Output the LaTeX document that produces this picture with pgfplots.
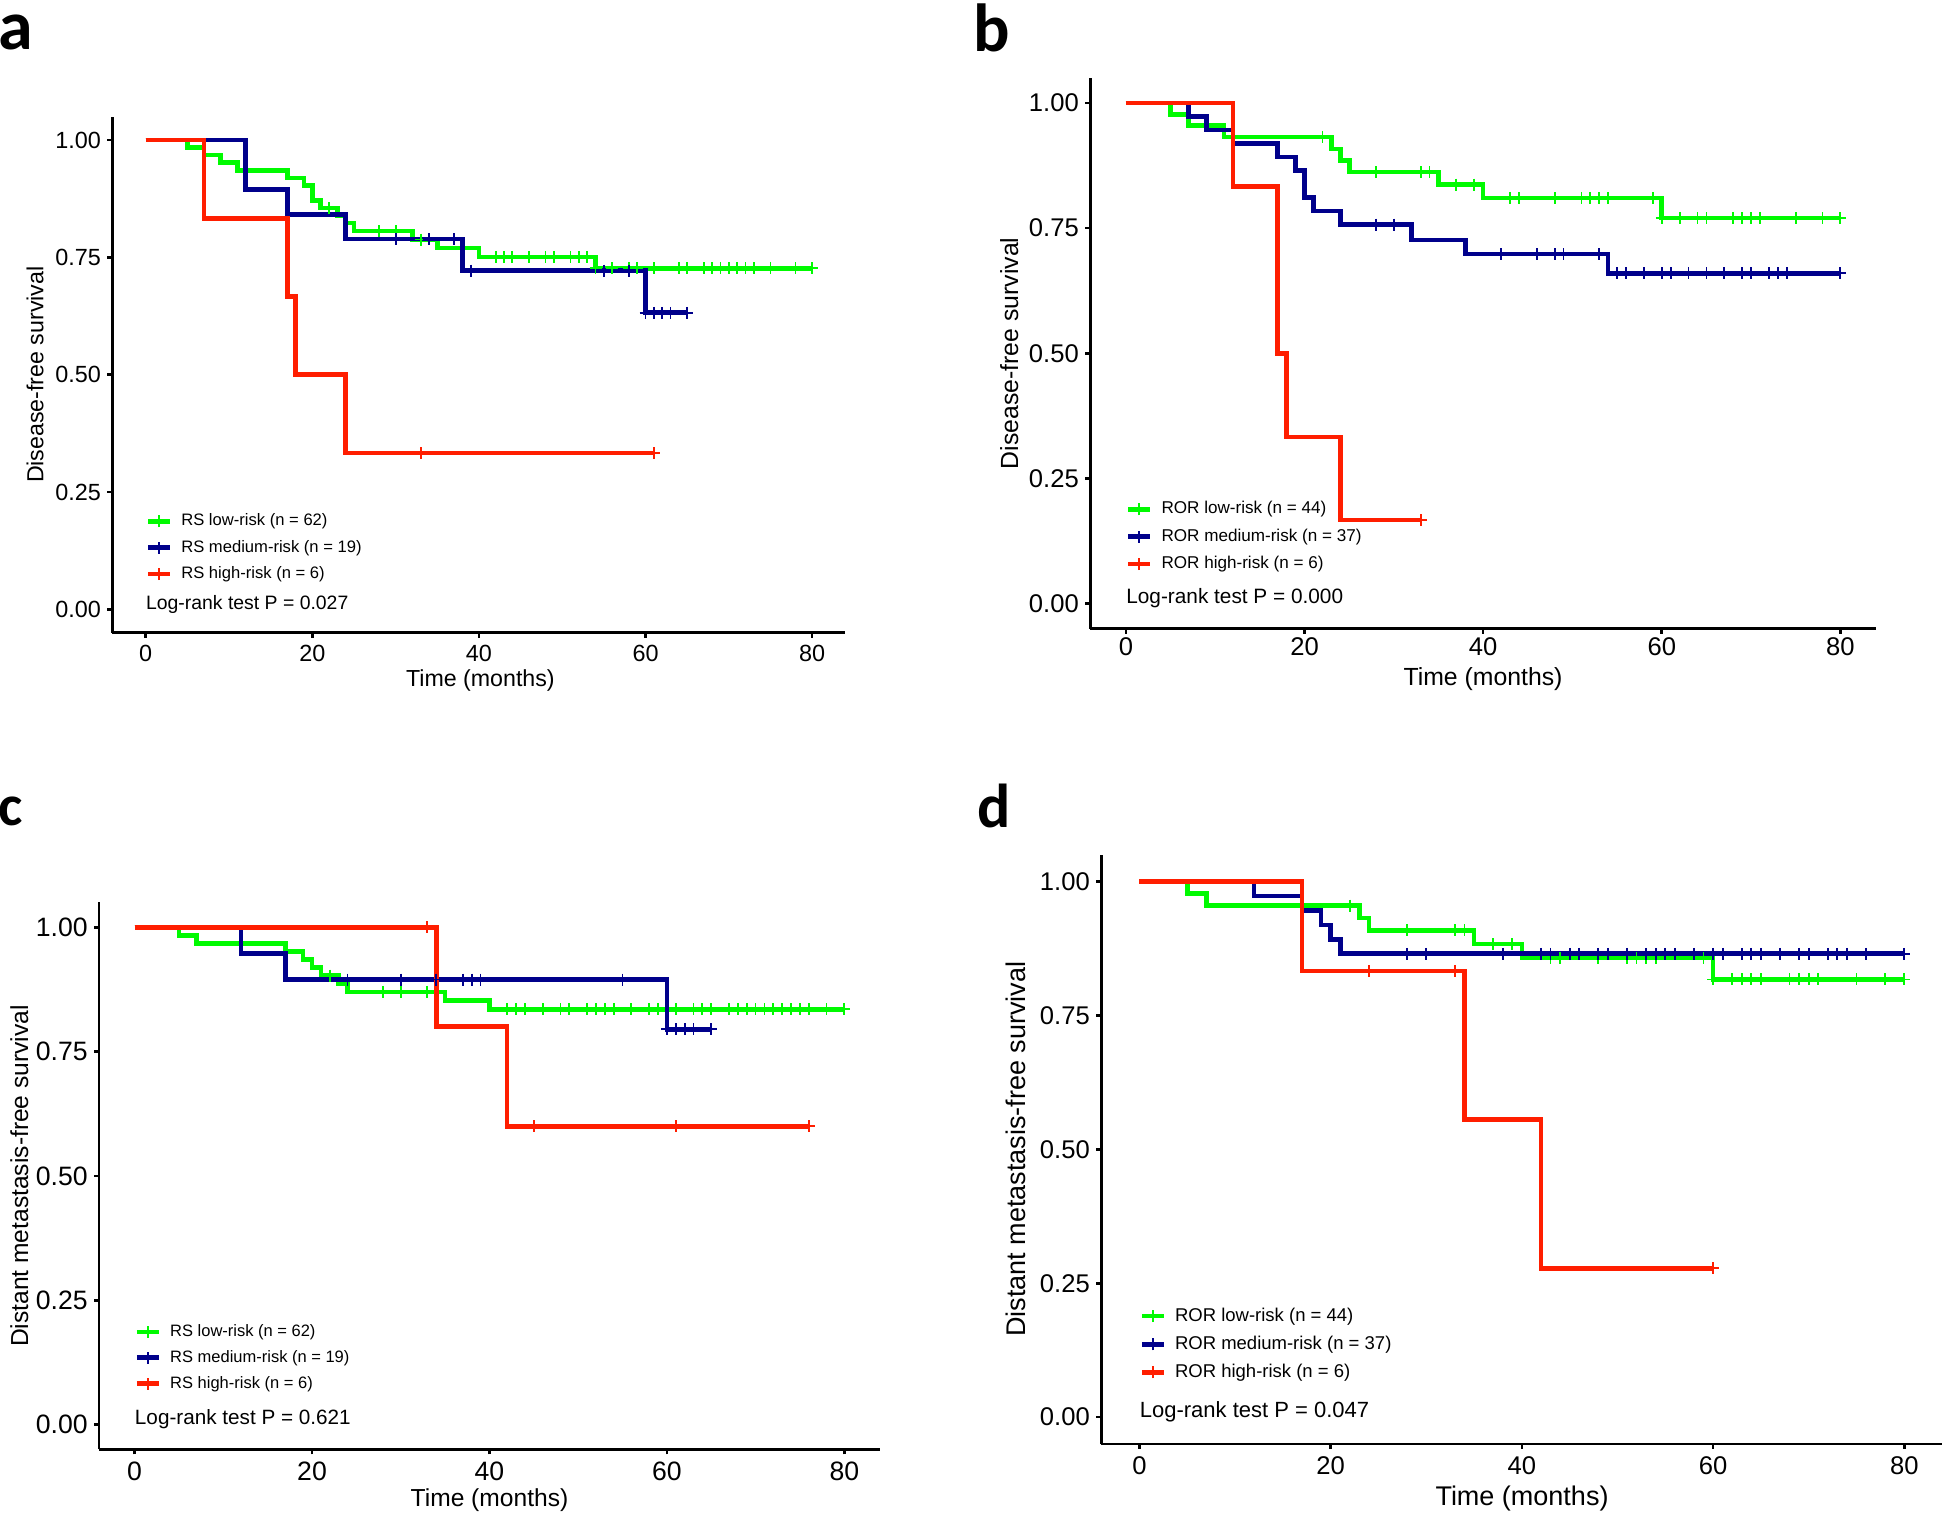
\documentclass[border=0pt]{standalone}
\usepackage{fontspec}
\setmainfont{Liberation Sans}
\newfontfamily\letterfont{Carlito}
\usepackage{pgfplots}
\pgfplotsset{compat=1.18}
\definecolor{kmgreen}{RGB}{0,250,0}
\definecolor{kmblue}{RGB}{0,0,139}
\definecolor{kmred}{RGB}{255,30,0}
\newcommand{\fs}[1]{\fontsize{#1}{#1}\selectfont}
\pgfplotsset{
  kmaxis/.style={
    scale only axis, anchor=south west,
    xmin=-4, xmax=84, ymin=-0.05, ymax=1.05,
    axis x line*=bottom, axis y line*=left,
    axis line style={line width=1.3pt, black, -},
    xtick={0,20,40,60,80}, xticklabels={0,20,40,60,80},
    ytick={0,0.25,0.5,0.75,1}, yticklabels={0.00,0.25,0.50,0.75,1.00},
    tick align=outside, major tick length=2.5pt,
    tick style={line width=1.3pt, black},
    yticklabel style={inner sep=0pt, xshift=-3pt},
    legend cell align=left,
    legend image code/.code={
      \draw[##1, line width=2.3pt] (0pt,0pt) -- (11pt,0pt);
      \draw[##1, line width=1pt] (5.5pt,-3pt) -- (5.5pt,3pt);
    },
  },
  st/.style={const plot, line width=2.3pt, forget plot},
  cs/.style={only marks, mark=+, mark size=3pt, mark options={line width=0.9pt}, forget plot},
}
\begin{document}
\begin{tikzpicture}[x=1pt,y=1pt]
\path[use as bounding box] (0,0) rectangle (972,757.5);

% ---------------- panel a ----------------
\begin{axis}[kmaxis, at={(56.2pt,441.15pt)}, width=366.55pt, height=258pt,
  ticklabel style={font=\fs{11.7}},
  xticklabel style={inner sep=0pt, yshift=-3.5pt},
  legend style={at={(axis cs:0,0.2035)}, anchor=north west, draw=none, fill=none,
    inner sep=0pt, outer sep=0pt, row sep=5.7pt, column sep=4.5pt, font=\fs{8.3},
    nodes={inner sep=0pt}}]
\addlegendimage{kmgreen}\addlegendentry{RS low-risk (n = 62)}
\addlegendimage{kmblue}\addlegendentry{RS medium-risk (n = 19)}
\addlegendimage{kmred}\addlegendentry{RS high-risk (n = 6)}
\addplot[st, kmgreen] coordinates {(0,1)(5,0.984)(7,0.968)(9,0.952)(11,0.935)(17,0.919)(19,0.903)(20,0.871)(21,0.855)(23,0.839)(24,0.823)(25,0.806)(32,0.788)(35,0.770)(40,0.751)(54,0.727)(80,0.727)};
\addplot[cs, kmgreen] coordinates {(22,0.855)(28,0.806)(30,0.806)(33,0.788)(42,0.751)(43,0.751)(44,0.751)(46,0.751)(48,0.751)(49,0.751)(51,0.751)(52,0.751)(53,0.751)(54,0.727)(56,0.727)(58,0.727)(59,0.727)(61,0.727)(64,0.727)(65,0.727)(67,0.727)(68,0.727)(69,0.727)(70,0.727)(71,0.727)(72,0.727)(73,0.727)(75,0.727)(78,0.727)(80,0.727)};
\addplot[st, kmblue] coordinates {(0,1)(12,0.895)(17,0.842)(24,0.789)(38,0.722)(60,0.632)(65,0.632)};
\addplot[cs, kmblue] coordinates {(30,0.789)(34,0.789)(37,0.789)(39,0.722)(55,0.722)(58,0.722)(60,0.632)(61,0.632)(62,0.632)(63,0.632)(65,0.632)};
\addplot[st, kmred] coordinates {(0,1)(7,0.833)(17,0.667)(18,0.5)(24,0.333)(61,0.333)};
\addplot[cs, kmred] coordinates {(33,0.333)(61,0.333)};
\node[anchor=base west, inner sep=0pt, font=\fs{9.7}] at (axis cs:0,0) {Log-rank test P = 0.027};
\end{axis}

% ---------------- panel b ----------------
\begin{axis}[kmaxis, at={(545.1pt,443.1pt)}, width=392.95pt, height=275.45pt,
  ticklabel style={font=\fs{12.8}},
  xticklabel style={inner sep=0pt, yshift=-1.5pt},
  legend style={at={(axis cs:0,0.204)}, anchor=north west, draw=none, fill=none,
    inner sep=0pt, outer sep=0pt, row sep=6pt, column sep=4.5pt, font=\fs{8.55},
    nodes={inner sep=0pt}}]
\addlegendimage{kmgreen}\addlegendentry{ROR low-risk (n = 44)}
\addlegendimage{kmblue}\addlegendentry{ROR medium-risk (n = 37)}
\addlegendimage{kmred}\addlegendentry{ROR high-risk (n = 6)}
\addplot[st, kmgreen] coordinates {(0,1)(5,0.977)(7,0.955)(11,0.932)(23,0.908)(24,0.885)(25,0.862)(35,0.837)(40,0.810)(60,0.770)(80,0.770)};
\addplot[cs, kmgreen] coordinates {(22,0.932)(28,0.862)(33,0.862)(34,0.862)(37,0.837)(39,0.837)(43,0.810)(44,0.810)(48,0.810)(51,0.810)(52,0.810)(53,0.810)(54,0.810)(59,0.810)(60,0.770)(62,0.770)(64,0.770)(65,0.770)(68,0.770)(69,0.770)(70,0.770)(71,0.770)(75,0.770)(78,0.770)(80,0.770)};
\addplot[st, kmblue] coordinates {(0,1)(7,0.973)(9,0.946)(12,0.919)(17,0.892)(19,0.865)(20,0.811)(21,0.784)(24,0.757)(32,0.726)(38,0.698)(54,0.660)(80,0.660)};
\addplot[cs, kmblue] coordinates {(28,0.757)(30,0.757)(42,0.698)(46,0.698)(48,0.698)(49,0.698)(53,0.698)(55,0.660)(56,0.660)(58,0.660)(60,0.660)(61,0.660)(63,0.660)(65,0.660)(67,0.660)(69,0.660)(70,0.660)(72,0.660)(73,0.660)(74,0.660)(80,0.660)};
\addplot[st, kmred] coordinates {(0,1)(12,0.833)(17,0.5)(18,0.333)(24,0.167)(33,0.167)};
\addplot[cs, kmred] coordinates {(33,0.167)};
\node[anchor=base west, inner sep=0pt, font=\fs{10.4}] at (axis cs:0,0) {Log-rank test P = 0.000};
\end{axis}

% ---------------- panel c ----------------
\begin{axis}[kmaxis, at={(49.55pt,32.8pt)}, width=390.35pt, height=273.45pt,
  ticklabel style={font=\fs{13.3}},
  xticklabel style={inner sep=0pt, yshift=-3.5pt},
  legend style={at={(axis cs:0,0.2015)}, anchor=north west, draw=none, fill=none,
    inner sep=0pt, outer sep=0pt, row sep=5.5pt, column sep=4.5pt, font=\fs{8.25},
    nodes={inner sep=0pt}}]
\addlegendimage{kmgreen}\addlegendentry{RS low-risk (n = 62)}
\addlegendimage{kmblue}\addlegendentry{RS medium-risk (n = 19)}
\addlegendimage{kmred}\addlegendentry{RS high-risk (n = 6)}
\addplot[st, kmgreen] coordinates {(0,1)(5,0.984)(7,0.968)(17,0.951)(19,0.935)(20,0.919)(21,0.903)(23,0.887)(24,0.870)(35,0.853)(40,0.835)(80,0.835)};
\addplot[cs, kmgreen] coordinates {(22,0.903)(28,0.870)(30,0.870)(33,0.870)(42,0.835)(43,0.835)(44,0.835)(46,0.835)(48,0.835)(49,0.835)(51,0.835)(52,0.835)(53,0.835)(54,0.835)(56,0.835)(58,0.835)(59,0.835)(61,0.835)(63,0.835)(64,0.835)(65,0.835)(67,0.835)(68,0.835)(69,0.835)(70,0.835)(71,0.835)(72,0.835)(73,0.835)(74,0.835)(75,0.835)(76,0.835)(78,0.835)(80,0.835)};
\addplot[st, kmblue] coordinates {(0,1)(12,0.947)(17,0.895)(60,0.795)(65,0.795)};
\addplot[cs, kmblue] coordinates {(24,0.895)(30,0.895)(34,0.895)(37,0.895)(38,0.895)(39,0.895)(55,0.895)(60,0.795)(61,0.795)(62,0.795)(63,0.795)(65,0.795)};
\addplot[st, kmred] coordinates {(0,1)(34,0.8)(42,0.6)(76,0.6)};
\addplot[cs, kmred] coordinates {(33,1)(45,0.6)(61,0.6)(76,0.6)};
\node[anchor=base west, inner sep=0pt, font=\fs{10.35}] at (axis cs:0,0) {Log-rank test P = 0.621};
\end{axis}

% ---------------- panel d ----------------
\begin{axis}[kmaxis, at={(550.6pt,35.55pt)}, width=420.65pt, height=294.6pt,
  ticklabel style={font=\fs{12.8}},
  xticklabel style={inner sep=0pt, yshift=-3.5pt},
  legend style={at={(axis cs:0,0.204)}, anchor=north west, draw=none, fill=none,
    inner sep=0pt, outer sep=0pt, row sep=5.9pt, column sep=4.5pt, font=\fs{9.25},
    nodes={inner sep=0pt}}]
\addlegendimage{kmgreen}\addlegendentry{ROR low-risk (n = 44)}
\addlegendimage{kmblue}\addlegendentry{ROR medium-risk (n = 37)}
\addlegendimage{kmred}\addlegendentry{ROR high-risk (n = 6)}
\addplot[st, kmgreen] coordinates {(0,1)(5,0.977)(7,0.955)(23,0.932)(24,0.909)(35,0.883)(40,0.857)(60,0.817)(80,0.817)};
\addplot[cs, kmgreen] coordinates {(22,0.955)(28,0.909)(33,0.909)(34,0.909)(37,0.883)(39,0.883)(43,0.857)(44,0.857)(48,0.857)(51,0.857)(52,0.857)(53,0.857)(54,0.857)(59,0.857)(60,0.817)(62,0.817)(63,0.817)(64,0.817)(65,0.817)(68,0.817)(69,0.817)(70,0.817)(71,0.817)(75,0.817)(78,0.817)(80,0.817)};
\addplot[st, kmblue] coordinates {(0,1)(12,0.973)(17,0.946)(19,0.919)(20,0.892)(21,0.865)(80,0.865)};
\addplot[cs, kmblue] coordinates {(28,0.865)(30,0.865)(38,0.865)(42,0.865)(43,0.865)(45,0.865)(46,0.865)(48,0.865)(49,0.865)(51,0.865)(53,0.865)(54,0.865)(55,0.865)(56,0.865)(58,0.865)(60,0.865)(61,0.865)(63,0.865)(64,0.865)(65,0.865)(67,0.865)(69,0.865)(70,0.865)(72,0.865)(73,0.865)(74,0.865)(76,0.865)(80,0.865)};
\addplot[st, kmred] coordinates {(0,1)(17,0.833)(34,0.556)(42,0.278)(60,0.278)};
\addplot[cs, kmred] coordinates {(24,0.833)(33,0.833)(60,0.278)};
\node[anchor=base west, inner sep=0pt, font=\fs{11}] at (axis cs:0,0) {Log-rank test P = 0.047};
\end{axis}

% ---------------- axis titles ----------------
\node[anchor=base, inner sep=0pt, font=\fs{11.6}] at (240.2,414.15) {Time (months)};
\node[anchor=base, inner sep=0pt, rotate=90, font=\fs{11.6}] at (21.65,570.15) {Disease-free survival};
\node[anchor=base, inner sep=0pt, font=\fs{12.4}] at (741.5,414.5) {Time (months)};
\node[anchor=base, inner sep=0pt, rotate=90, font=\fs{12.4}] at (509,580.8) {Disease-free survival};
\node[anchor=base, inner sep=0pt, font=\fs{12.3}] at (244.75,4.05) {Time (months)};
\node[anchor=base, inner sep=0pt, rotate=90, font=\fs{12.3}] at (14,169.5) {Distant metastasis-free survival};
\node[anchor=base, inner sep=0pt, font=\fs{13.5}] at (761,4.5) {Time (months)};
\node[anchor=base, inner sep=0pt, rotate=90, font=\fs{13.5}] at (512.5,182.85) {Distant metastasis-free survival};

% ---------------- panel letters ----------------
\node[anchor=base west, inner sep=0pt, font=\letterfont\bfseries\fs{35}] at (-1,732.5) {a};
\node[anchor=base west, inner sep=0pt, font=\letterfont\bfseries\fs{34}] at (486.5,731.5) {b};
\node[anchor=base west, inner sep=0pt, font=\letterfont\bfseries\fs{29}] at (-1,344.5) {c};
\node[anchor=base west, inner sep=0pt, font=\letterfont\bfseries\fs{31}] at (488.5,343.5) {d};
\end{tikzpicture}
\end{document}
